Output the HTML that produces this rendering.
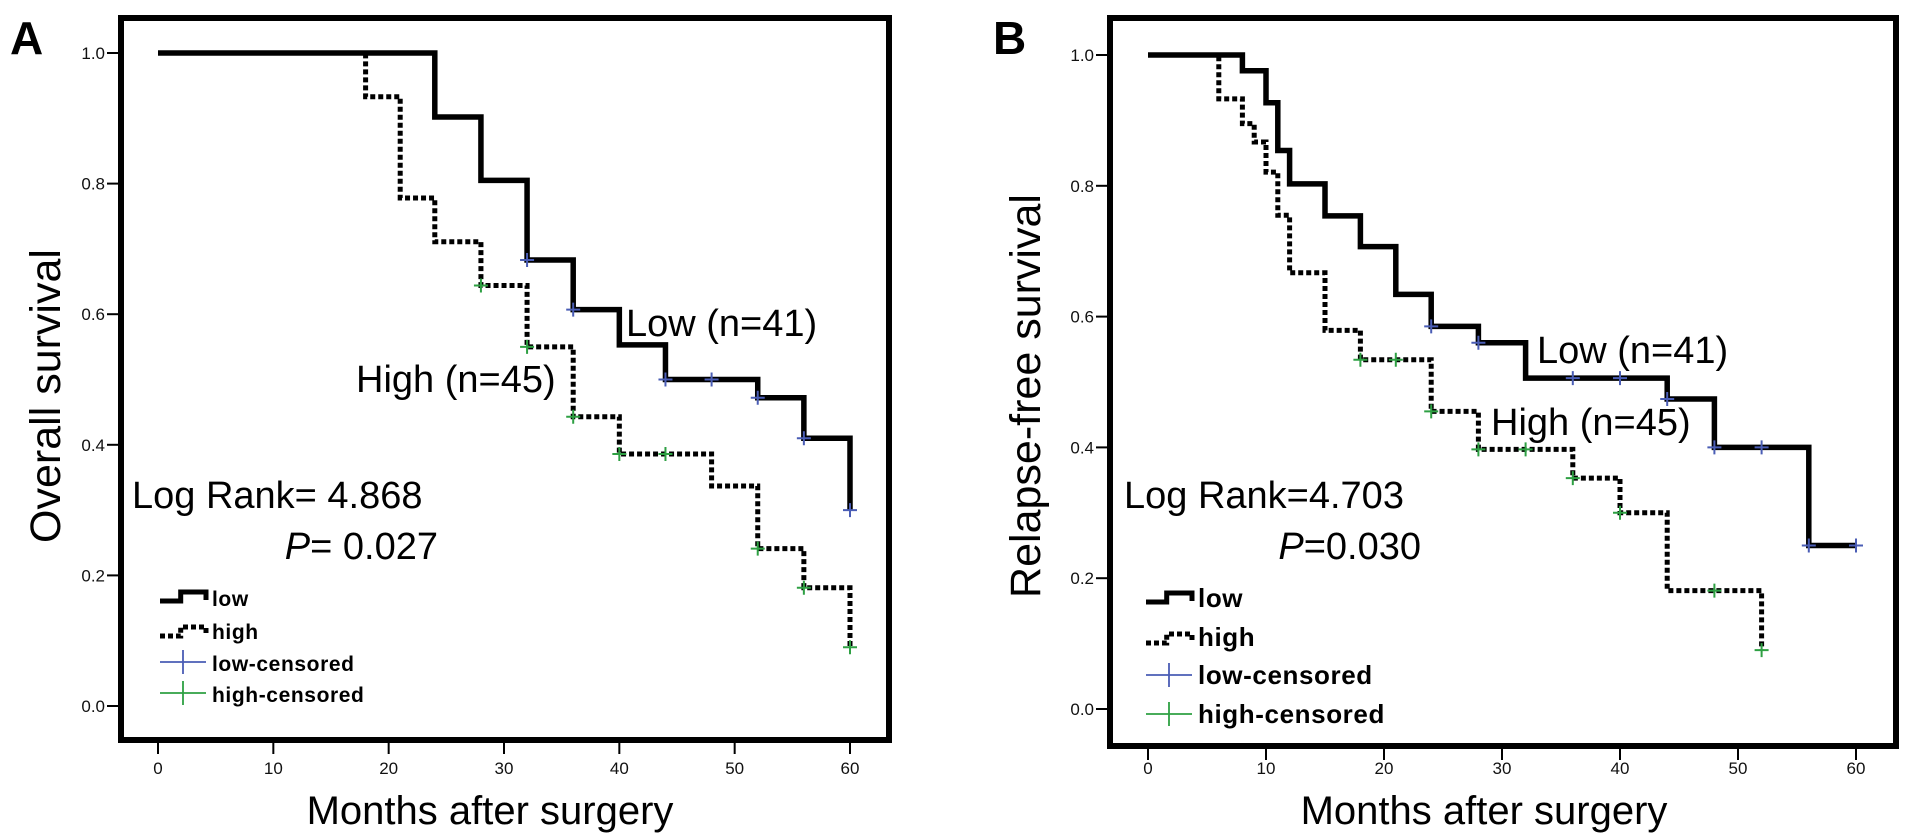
<!DOCTYPE html>
<html><head><meta charset="utf-8">
<style>
html,body{margin:0;padding:0;background:#fff;}
svg{display:block;font-family:"Liberation Sans",Arial,sans-serif;}
</style></head>
<body>
<svg id="chart" width="1913" height="840" viewBox="0 0 1913 840" xmlns="http://www.w3.org/2000/svg"></svg>
<script>
// ---- Panel A data (Overall survival) ----
const aLowTimes = [24, 28, 32, 36, 40, 44, 52, 56, 60];
const aLowSurv  = [0.902, 0.805, 0.683, 0.607, 0.553, 0.500, 0.472, 0.410, 0.300];
const aLowCens  = [32, 36, 44, 48, 52, 56, 60];
const aLowEnd = 60;
const aHighTimes = [18, 21, 24, 28, 32, 36, 40, 48, 52, 56, 60];
const aHighSurv  = [0.933, 0.778, 0.711, 0.644, 0.550, 0.443, 0.386, 0.337, 0.241, 0.181, 0.090];
const aHighCens  = [28, 32, 36, 40, 44, 52, 56, 60];
const aHighEnd = 60;
// ---- Panel B data (Relapse-free survival) ----
const bLowTimes = [8, 10, 11, 12, 15, 18, 21, 24, 28, 32, 44, 48, 56];
const bLowSurv  = [0.976, 0.927, 0.854, 0.803, 0.754, 0.707, 0.634, 0.585, 0.560, 0.506, 0.474, 0.400, 0.250];
const bLowCens  = [24, 28, 36, 40, 44, 48, 52, 56, 60];
const bLowEnd = 60;
const bHighTimes = [6, 8, 9, 10, 11, 12, 15, 18, 24, 28, 36, 40, 44, 52];
const bHighSurv  = [0.933, 0.895, 0.867, 0.821, 0.755, 0.667, 0.579, 0.534, 0.455, 0.397, 0.353, 0.300, 0.181, 0.090];
const bHighCens  = [18, 21, 24, 28, 32, 36, 40, 48, 52];
const bHighEnd = 52;
// ---- Axis ticks ----
const xTicks = [0, 10, 20, 30, 40, 50, 60];
const yTicks = [0.0, 0.2, 0.4, 0.6, 0.8, 1.0];
const yTickLabels = ["0.0", "0.2", "0.4", "0.6", "0.8", "1.0"];

const NS = "http://www.w3.org/2000/svg";
const svg = document.getElementById("chart");
function mk(tag, attrs, parent, text) {
  const e = document.createElementNS(NS, tag);
  for (const k in attrs) e.setAttribute(k, attrs[k]);
  if (text !== undefined) e.textContent = text;
  (parent || svg).appendChild(e);
  return e;
}

function stepPath(times, surv, end, xs, ys) {
  let d = "M" + xs(0) + "," + ys(1);
  for (let i = 0; i < times.length; i++) {
    d += " H" + xs(times[i]) + " V" + ys(surv[i]);
  }
  d += " H" + xs(end);
  return d;
}
function survAt(times, surv, t) {
  let s = 1;
  for (let i = 0; i < times.length; i++) if (times[i] <= t) s = surv[i];
  return s;
}

function panel(cfg) {
  const g = mk("g", {});
  
  
  const xs = t => cfg.x0 + (cfg.x60 - cfg.x0) * t / 60;
  const ys = v => cfg.y0 - (cfg.y0 - cfg.y1) * v;

  const box = mk("rect", {x: cfg.bx + 3, y: cfg.by + 3, width: cfg.bw - 6, height: cfg.bh - 6, fill: "none", stroke: "#000", "stroke-width": 6}, g);
  
  

  const lbl = mk("text", {x: cfg.letterX, y: 54, "font-size": 46, "font-weight": "bold"}, g, cfg.letter);
  
  

  for (let i = 0; i < yTicks.length; i++) {
    const y = ys(yTicks[i]);
    const t = mk("line", {x1: cfg.bx - 11, x2: cfg.bx, y1: y, y2: y, stroke: "#000", "stroke-width": 2}, g);
    
    
    const tl = mk("text", {x: cfg.bx - 13, y: y + 6, "font-size": 17, "text-anchor": "end", fill: "#111"}, g, yTickLabels[i]);
    
    
  }
  for (let i = 0; i < xTicks.length; i++) {
    const x = xs(xTicks[i]);
    const t = mk("line", {x1: x, x2: x, y1: cfg.by + cfg.bh, y2: cfg.by + cfg.bh + 11, stroke: "#000", "stroke-width": 2}, g);
    
    
    const tl = mk("text", {x: x, y: 774, "font-size": 17, "text-anchor": "middle", fill: "#111"}, g, String(xTicks[i]));
    
    
  }
  const xt = mk("text", {x: cfg.xTitleX, y: 824, "font-size": 40, "text-anchor": "middle"}, g, "Months after surgery");
  
  
  const yt = mk("text", {x: 0, y: 0, "font-size": 43, "text-anchor": "middle", transform: "translate(" + cfg.yTitleX + ",396) rotate(-90)", "xml:space": "preserve"}, g, cfg.yTitle);
  
  

  const hp = mk("path", {d: stepPath(cfg.highTimes, cfg.highSurv, cfg.highEnd, xs, ys), fill: "none", stroke: "#000", "stroke-width": 5, "stroke-dasharray": "5 3"}, g);
  
  
  const lp = mk("path", {d: stepPath(cfg.lowTimes, cfg.lowSurv, cfg.lowEnd, xs, ys), fill: "none", stroke: "#000", "stroke-width": 5.5}, g);
  
  

  function cens(list, times, surv, color, nm) {
    for (const t of list) {
      const x = xs(t), y = ys(survAt(times, surv, t));
      const p = mk("path", {d: "M" + (x - 7) + "," + y + " H" + (x + 7) + " M" + x + "," + (y - 7) + " V" + (y + 7), stroke: color, "stroke-width": 2, fill: "none"}, g);
      
      
    }
  }
  cens(cfg.lowCens, cfg.lowTimes, cfg.lowSurv, "#4a5db5", "low-censored-mark");
  cens(cfg.highCens, cfg.highTimes, cfg.highSurv, "#2ea043", "high-censored-mark");

  for (const a of cfg.ann) {
    const t = mk("text", {x: a.x, y: a.y, "font-size": a.fs, "text-anchor": a.anchor || "start"}, g);
    
    
    if (a.p) {
      mk("tspan", {"font-style": "italic"}, t, "P");
      mk("tspan", {}, t, a.text);
    } else t.textContent = a.text;
  }

  const L = cfg.leg;
  const lg = mk("g", {}, g);
  
  
  const items = [["low", "solid"], ["high", "dot"], ["low-censored", "#4a5db5"], ["high-censored", "#2ea043"]];
  items.forEach((it, i) => {
    const yb = L.y[i];
    const x1 = L.x, x2 = L.x + L.w;
    let sym;
    if (it[1] === "solid") {
      sym = mk("path", {d: "M" + x1 + "," + (yb - 5) + " H" + (x1 + L.w * 0.45) + " V" + (yb - 14) + " H" + x2 + " V" + (yb - 6), fill: "none", stroke: "#000", "stroke-width": 5}, lg);
    } else if (it[1] === "dot") {
      sym = mk("path", {d: "M" + x1 + "," + (yb - 3) + " H" + (x1 + L.w * 0.45) + " V" + (yb - 12) + " H" + x2 + " V" + (yb - 4), fill: "none", stroke: "#000", "stroke-width": 5, "stroke-dasharray": "5 3"}, lg);
    } else {
      const cy = yb - 9, cx = (x1 + x2) / 2;
      sym = mk("path", {d: "M" + x1 + "," + cy + " H" + x2 + " M" + cx + "," + (cy - 12) + " V" + (cy + 12), stroke: it[1], "stroke-width": 1.8, fill: "none"}, lg);
    }
    
    
    const tx = mk("text", {x: L.tx, y: yb, "font-size": L.fs, "font-weight": "bold", "letter-spacing": 0.6}, lg, it[0]);
    
    
  });
}

panel({
  name: "panel-a", letter: "A", letterX: 10,
  bx: 118, by: 15, bw: 774, bh: 728,
  x0: 158, x60: 850, y0: 706, y1: 53,
  xTitleX: 490, yTitleX: 60, yTitle: "Overall survival",
  lowTimes: aLowTimes, lowSurv: aLowSurv, lowCens: aLowCens, lowEnd: aLowEnd,
  highTimes: aHighTimes, highSurv: aHighSurv, highCens: aHighCens, highEnd: aHighEnd,
  ann: [
    {x: 626, y: 336, fs: 38, text: "Low (n=41)", name: "low-group-label"},
    {x: 356, y: 392, fs: 38, text: "High (n=45)", name: "high-group-label"},
    {x: 132, y: 508, fs: 38, text: "Log Rank= 4.868", name: "log-rank-stat"},
    {x: 438, y: 559, fs: 38, text: "= 0.027", p: true, anchor: "end", name: "p-value"}
  ],
  leg: {x: 160, w: 46, tx: 212, fs: 21, y: [606, 639, 671, 702]}
});

panel({
  name: "panel-b", letter: "B", letterX: 993,
  bx: 1107, by: 15, bw: 792, bh: 734,
  x0: 1148, x60: 1856, y0: 709, y1: 55,
  xTitleX: 1484, yTitleX: 1040, yTitle: "Relapse-free  survival",
  lowTimes: bLowTimes, lowSurv: bLowSurv, lowCens: bLowCens, lowEnd: bLowEnd,
  highTimes: bHighTimes, highSurv: bHighSurv, highCens: bHighCens, highEnd: bHighEnd,
  ann: [
    {x: 1537, y: 363, fs: 38, text: "Low (n=41)", name: "low-group-label"},
    {x: 1491, y: 435, fs: 38, text: "High (n=45)", name: "high-group-label"},
    {x: 1124, y: 508, fs: 38, text: "Log Rank=4.703", name: "log-rank-stat"},
    {x: 1421, y: 559, fs: 38, text: "=0.030", p: true, anchor: "end", name: "p-value"}
  ],
  leg: {x: 1146, w: 46, tx: 1198, fs: 26, y: [607, 646, 684, 723]}
});
</script>
</body></html>
